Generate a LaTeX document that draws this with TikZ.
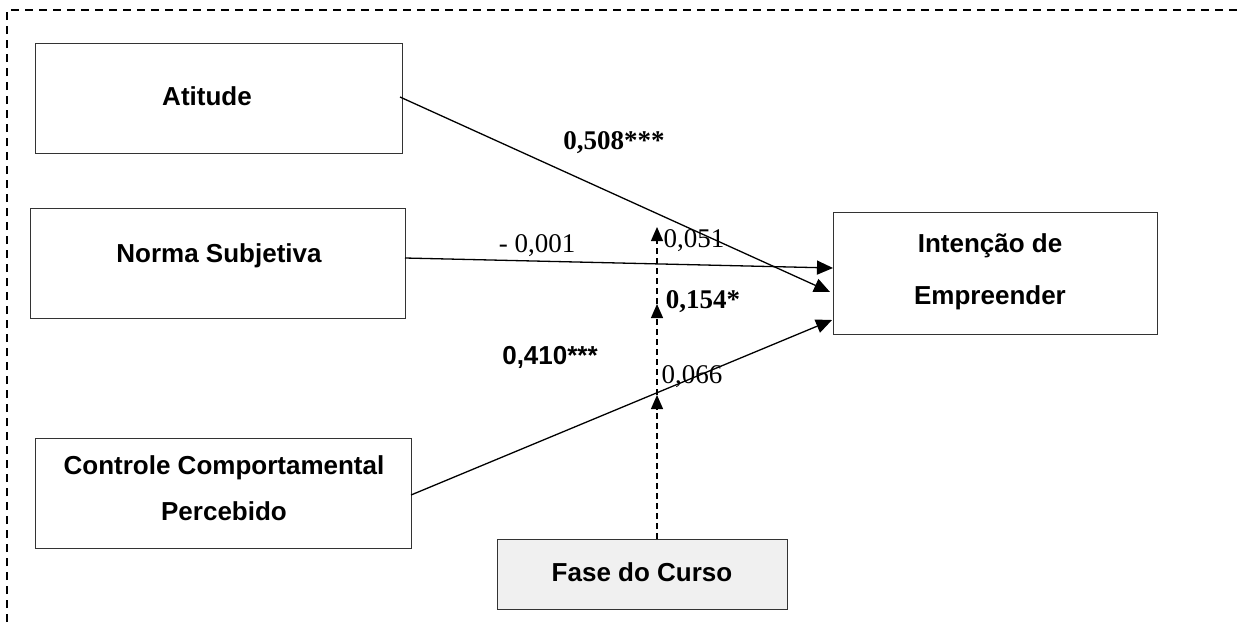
\documentclass[tikz,border=0pt]{standalone}
\usepackage{fontspec}
\setmainfont{Liberation Serif}
\setsansfont{Liberation Sans}
\usetikzlibrary{arrows.meta}
\begin{document}
\begin{tikzpicture}[x=1pt,y=-1pt,
  box/.style={draw=black!80,line width=0.9pt,inner sep=0pt},
  lbl/.style={font=\sffamily\bfseries\fontsize{26}{30}\selectfont,inner sep=0pt,align=center},
  conn/.style={line width=1.3pt,-{Triangle[length=16pt,width=14pt]}},
  modarrow/.style={line width=1.2pt,dash pattern=on 6pt off 4pt,-{Triangle[length=14pt,width=12pt]}},
  coef/.style={font=\fontsize{27}{30}\selectfont,inner sep=0pt},
  coefb/.style={font=\bfseries\fontsize{27}{30}\selectfont,inner sep=0pt}]
\useasboundingbox (0,0) rectangle (1237,622);
\draw[line width=1.6pt,dash pattern=on 8pt off 6pt] (7,622) -- (7,10) -- (1237,10);
% boxes
\node[box,minimum width=367pt,minimum height=110pt] (att) at (218.5,98) {};
\node[lbl] (attl) at (207,96) {Atitude};
\node[box,minimum width=375pt,minimum height=110pt] (nor) at (217.5,263) {};
\node[lbl] (norl) at (219,256) {Norma Subjetiva};
\node[box,minimum width=376pt,minimum height=110pt] (cont) at (223,493) {};
\node[lbl] (contl1) at (224,468) {Controle Comportamental};
\node[lbl] (contl2) at (224,511) {Percebido};
\node[box,minimum width=324pt,minimum height=122pt] (int) at (995,273) {};
\node[lbl] (intl1) at (990,246) {Intenção de};
\node[lbl] (intl2) at (990,298) {Empreender};
\node[box,fill=black!6,minimum width=290pt,minimum height=70pt] (fase) at (642,574) {};
\node[lbl] (fasel) at (642,572) {Fase do Curso};
% connectors
\coordinate (a1) at (400,97);
\coordinate (a2) at (830,292);
\coordinate (n1) at (405,258);
\coordinate (n2) at (833,268);
\coordinate (c1) at (411,495);
\coordinate (c2) at (832,320);
\draw[conn] (a1) -- (a2);
\draw[conn] (n1) -- (n2);
\draw[conn] (c1) -- (c2);
\coordinate (f0) at (657,539);
\coordinate (f1) at (657,395);
\coordinate (f2) at (657,304);
\coordinate (f3) at (657,227);
\draw[modarrow] (f0) -- (f1);
\draw[modarrow] (f1) -- (f2);
\draw[modarrow] (f2) -- (f3);
% labels
\node[coefb] (l1) at (614,143) {0,508***};
\node[coef] (l2) at (537,246) {- 0,001};
\node[coef] (l3) at (694,241) {0,051};
\node[coefb] (l4) at (703,302) {0,154*};
\node[lbl] (l5) at (550,357) {0,410***};
\node[coef] (l6) at (692,377) {0,066};
\end{tikzpicture}
\end{document}
